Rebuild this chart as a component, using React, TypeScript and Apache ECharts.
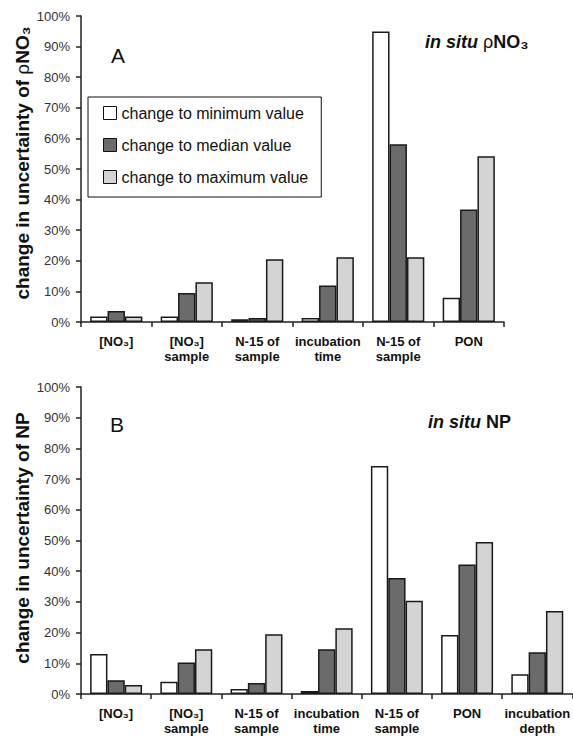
import React, { useEffect, useRef } from "react";
import * as echarts from "echarts";

const categoriesA = ["[NO₃]", "[NO₃]\nsample", "N-15 of\nsample", "incubation\ntime", "N-15 of\nsample", "PON"];
const minValueA = [1.8, 1.8, 0.9, 1.3, 94.9, 7.9];
const medianValueA = [3.6, 9.5, 1.3, 11.9, 58.1, 36.8];
const maxValueA = [1.8, 13.0, 20.5, 21.2, 21.2, 54.2];

const categoriesB = ["[NO₃]", "[NO₃]\nsample", "N-15 of\nsample", "incubation\ntime", "N-15 of\nsample", "PON", "incubation\ndepth"];
const minValueB = [13.0, 4.0, 1.6, 1.0, 74.3, 19.2, 6.4];
const medianValueB = [4.5, 10.3, 3.6, 14.6, 37.8, 42.2, 13.6];
const maxValueB = [2.9, 14.6, 19.5, 21.4, 30.4, 49.5, 27.0];

const seriesNames = ["change to minimum value", "change to median value", "change to maximum value"];
const yTicks = { min: 0, max: 100, interval: 10 };

const FONT = "'Liberation Sans', Arial, Helvetica, sans-serif";
const COLORS = ["#ffffff", "#6b6b6b", "#d4d4d4"];

export default function App() {
  const ref = useRef<HTMLDivElement>(null);
  useEffect(() => {
    if (!ref.current) return;
    const chart = echarts.init(ref.current, null, { renderer: "svg" });

    const xAxisCommon = (cats: string[], gridIndex: number) => ({
      type: "category",
      gridIndex,
      data: cats,
      axisLine: { lineStyle: { color: "#222", width: 1.5 } },
      axisTick: { show: true, length: 5, lineStyle: { color: "#222", width: 1.5 } },
      axisLabel: {
        interval: 0,
        margin: 12,
        color: "#111",
        fontFamily: FONT,
        fontWeight: "bold",
        fontSize: 13,
        lineHeight: 15,
      },
    });
    const yAxisCommon = (gridIndex: number) => ({
      type: "value",
      gridIndex,
      min: yTicks.min,
      max: yTicks.max,
      interval: yTicks.interval,
      splitLine: { show: false },
      axisLine: { show: true, lineStyle: { color: "#222", width: 1.5 } },
      axisTick: { show: true, length: 5, lineStyle: { color: "#222", width: 1.5 } },
      axisLabel: { formatter: "{value}%", margin: 11, color: "#333", fontFamily: FONT, fontSize: 13 },
    });

    const mkSeries = (data: number[], idx: number, axisIdx: number) => ({
      name: seriesNames[idx],
      type: "bar",
      xAxisIndex: axisIdx,
      yAxisIndex: axisIdx,
      data,
      barGap: "0%",
      barCategoryGap: "26%",
      itemStyle: { color: COLORS[idx], borderColor: "#1a1a1a", borderWidth: 1.5 },
    });

    chart.setOption({
      animation: false,
      backgroundColor: "#ffffff",
      grid: [
        { left: 81, top: 16, width: 423, height: 306 },
        { left: 81, top: 387, width: 493.5, height: 308 },
      ],
      xAxis: [xAxisCommon(categoriesA, 0), xAxisCommon(categoriesB, 1)],
      yAxis: [yAxisCommon(0), yAxisCommon(1)],
      legend: {
        orient: "vertical",
        left: 88,
        top: 97,
        data: seriesNames,
        icon: "rect",
        itemWidth: 13,
        itemHeight: 13,
        itemGap: 16,
        itemStyle: { borderColor: "#111", borderWidth: 1 },
        borderColor: "#111",
        borderWidth: 1,
        padding: [8, 13, 12, 15],
        textStyle: { fontFamily: FONT, fontSize: 16, color: "#111", lineHeight: 16 },
        selectedMode: false,
      },
      series: [
        mkSeries(minValueA, 0, 0),
        mkSeries(medianValueA, 1, 0),
        mkSeries(maxValueA, 2, 0),
        mkSeries(minValueB, 0, 1),
        mkSeries(medianValueB, 1, 1),
        mkSeries(maxValueB, 2, 1),
      ],
      graphic: [
        {
          type: "text",
          x: 22,
          y: 163,
          rotation: Math.PI / 2,
          style: {
            text: "{a|change in uncertainty of }{b|ρ}{a|NO₃}",
            rich: {
              a: { fontFamily: FONT, fontWeight: "bold", fontSize: 19, fill: "#111" },
              b: { fontFamily: FONT, fontWeight: "normal", fontSize: 19, fill: "#111" },
            },
            textAlign: "center",
            textVerticalAlign: "middle",
          },
        },
        {
          type: "text",
          x: 22,
          y: 538,
          rotation: Math.PI / 2,
          style: {
            text: "change in uncertainty of NP",
            font: `bold 19px ${FONT}`,
            fill: "#111",
            textAlign: "center",
            textVerticalAlign: "middle",
          },
        },
        {
          type: "text",
          x: 111,
          y: 55,
          style: { text: "A", font: `21px ${FONT}`, fill: "#111", textAlign: "left", textVerticalAlign: "middle" },
        },
        {
          type: "text",
          x: 110,
          y: 424,
          style: { text: "B", font: `21px ${FONT}`, fill: "#111", textAlign: "left", textVerticalAlign: "middle" },
        },
        {
          type: "text",
          x: 425,
          y: 42,
          style: {
            text: "{i|in situ }{r|ρ}{b|NO₃}",
            rich: {
              i: { fontFamily: FONT, fontWeight: "bold", fontStyle: "italic", fontSize: 18, fill: "#111" },
              r: { fontFamily: FONT, fontWeight: "normal", fontSize: 18, fill: "#111" },
              b: { fontFamily: FONT, fontWeight: "bold", fontSize: 18, fill: "#111" },
            },
            textAlign: "left",
            textVerticalAlign: "middle",
          },
        },
        {
          type: "text",
          x: 428,
          y: 422,
          style: {
            text: "{i|in situ }{b|NP}",
            rich: {
              i: { fontFamily: FONT, fontWeight: "bold", fontStyle: "italic", fontSize: 18, fill: "#111" },
              b: { fontFamily: FONT, fontWeight: "bold", fontSize: 18, fill: "#111" },
            },
            textAlign: "left",
            textVerticalAlign: "middle",
          },
        },
      ],
    });
    return () => chart.dispose();
  }, []);

  return (
    <div
      ref={ref}
      style={{ position: "absolute", left: 0, top: 0, width: 573, height: 736, background: "#fff" }}
    />
  );
}
